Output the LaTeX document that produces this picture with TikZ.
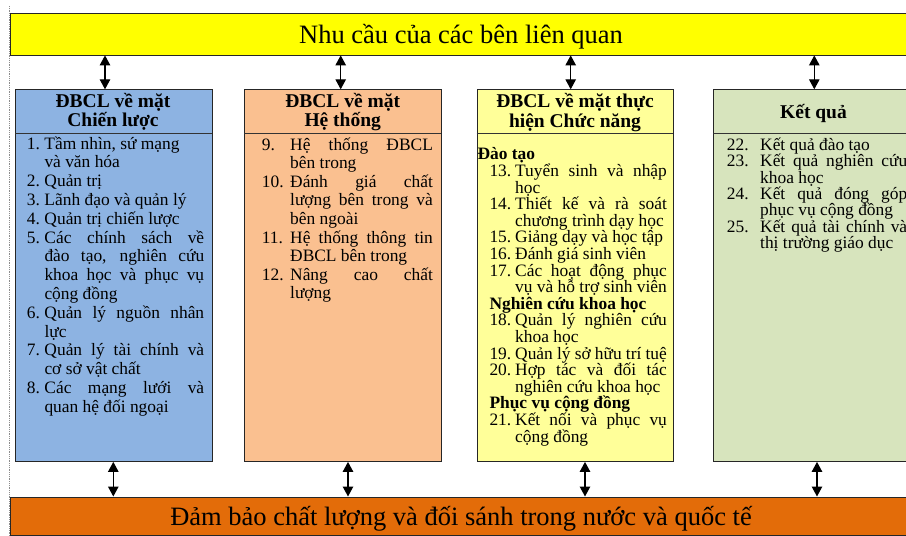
\documentclass[tikz,border=0pt]{standalone}
\usepackage{fontspec}
\setmainfont{Liberation Serif}
\usetikzlibrary{arrows.meta}
\definecolor{topyel}{HTML}{FFFF00}
\definecolor{cblue}{HTML}{8DB3E2}
\definecolor{cpeach}{HTML}{FAC090}
\definecolor{cyel}{HTML}{FFFF99}
\definecolor{cgreen}{HTML}{D7E4BD}
\definecolor{corange}{HTML}{E36C09}
\newlength\numw
\newlength\txtw
\newcommand\itJ[2]{\makebox[\numw][l]{#1}\makebox[\txtw][s]{#2}\par}
\newcommand\itR[2]{\makebox[\numw][l]{#1}#2\par}
\newcommand\coJ[1]{\hspace*{\numw}\makebox[\txtw][s]{#1}\par}
\newcommand\coR[1]{\hspace*{\numw}#1\par}
\newcommand\boxtext[5]{\begin{minipage}[t]{#4}\setlength\numw{#1}\setlength\txtw{#2}\fontsize{17.4}{#3}\selectfont\parindent=0pt\parskip=0pt\lineskiplimit=-50pt\lineskip=0pt\relax #5\end{minipage}}
\newcommand\hdr[2]{\begin{minipage}[t]{190pt}\centering\fontsize{19.5}{#1}\selectfont\bfseries #2\end{minipage}}
\tikzset{
  bar/.style={draw=black!85, line width=0.9pt, anchor=north west, inner sep=0pt},
  colbox/.style={draw=black!85, line width=0.9pt, anchor=north west, inner sep=0pt, minimum width=196.5pt, minimum height=371.7pt},
  sepline/.style={draw=black!80, line width=1.2pt},
  bartext/.style={anchor=base, inner sep=0pt, font=\fontsize{26.5}{30}\selectfont},
  txt/.style={anchor=base west, inner sep=0pt},
  htxt/.style={anchor=base, inner sep=0pt},
  dar/.style={{Triangle[width=10.5pt,length=10pt]}-{Triangle[width=10.5pt,length=10pt]}, line width=1.2pt, black}
}
\begin{document}
\begin{tikzpicture}[x=1pt,y=-1pt]
\useasboundingbox (0,0) rectangle (906,536);
\clip (0,0) rectangle (906,536);
\fill[white] (0,0) rectangle (906,536);
\draw[black!45, densely dotted, line width=0.8pt] (9,6) -- (9,536);
% top bar
\node[bar, fill=topyel, minimum width=902pt, minimum height=41.2pt] (top) at (10,13.3) {};
\node[bartext] (toptxt) at (461,43.3) {Nhu cầu của các bên liên quan};
% bottom bar
\node[bar, fill=corange, minimum width=902pt, minimum height=38.5pt] (bot) at (10,496.5) {};
\node[bartext] (bottxt) at (461,525.6) {Đảm bảo chất lượng và đối sánh trong nước và quốc tế};
% boxes
\node[colbox, fill=cblue] (b1) at (15,89.3) {};
\node[colbox, fill=cpeach] (b2) at (244.3,89.3) {};
\node[colbox, fill=cyel] (b3) at (476.7,89.3) {};
\node[colbox, fill=cgreen, minimum width=200pt] (b4) at (713.3,89.3) {};
\draw[sepline] (15,133.5) -- (211.5,133.5);
\draw[sepline] (244.3,133.5) -- (440.8,133.5);
\draw[sepline] (476.7,133.8) -- (673.2,133.8);
\draw[sepline] (713.3,133.3) -- (913.3,133.3);
% headers
\node[htxt] (h1) at (113,107.7) {\hdr{19}{ĐBCL về mặt\\Chiến lược}};
\node[htxt] (h2) at (342.7,107.7) {\hdr{19}{ĐBCL về mặt\\Hệ thống}};
\node[htxt] (h3) at (575,107.7) {\hdr{20}{ĐBCL về mặt thực\\hiện Chức năng}};
\node[htxt] (h4) at (813.5,118.3) {\hdr{19}{Kết quả}};
% contents
\node[txt] (t1) at (26.7,149) {\boxtext{17.6pt}{159.7pt}{18.8}{177.3pt}{%
\itR{1.}{Tầm nhìn, sứ mạng}
\coR{và văn hóa}
\itR{2.}{Quản trị}
\itR{3.}{Lãnh đạo và quản lý}
\itR{4.}{Quản trị chiến lược}
\itJ{5.}{Các chính sách về}
\coJ{đào tạo, nghiên cứu}
\coJ{khoa học và phục vụ}
\coR{cộng đồng}
\itJ{6.}{Quản lý nguồn nhân}
\coR{lực}
\itJ{7.}{Quản lý tài chính và}
\coR{cơ sở vật chất}
\itJ{8.}{Các mạng lưới và}
\coR{quan hệ đối ngoại}}};
\node[txt] (t2) at (261.7,150) {\boxtext{28.3pt}{142.7pt}{18.6}{171pt}{%
\itJ{9.}{Hệ thống ĐBCL}
\coR{bên trong}
\itJ{10.}{Đánh giá chất}
\coJ{lượng bên trong và}
\coR{bên ngoài}
\itJ{11.}{Hệ thống thông tin}
\coR{ĐBCL bên trong}
\itJ{12.}{Nâng cao chất}
\coR{lượng}}};
\node[txt] (t3) at (489.3,159.8) {\boxtext{25.7pt}{151.7pt}{16.6}{177.4pt}{%
\hspace*{-12pt}\textbf{Đào tạo}\par
\itJ{13.}{Tuyển sinh và nhập}
\coR{học}
\itJ{14.}{Thiết kế và rà soát}
\coR{chương trình dạy học}
\itR{15.}{Giảng dạy và học tập}
\itR{16.}{Đánh giá sinh viên}
\itJ{17.}{Các hoạt động phục}
\coR{vụ và hỗ trợ sinh viên}
\textbf{Nghiên cứu khoa học}\par
\itJ{18.}{Quản lý nghiên cứu}
\coR{khoa học}
\itR{19.}{Quản lý sở hữu trí tuệ}
\itJ{20.}{Hợp tác và đối tác}
\coR{nghiên cứu khoa học}
\textbf{Phục vụ cộng đồng}\par
\itJ{21.}{Kết nối và phục vụ}
\coR{cộng đồng}}};
\node[txt] (t4) at (726.7,150.3) {\boxtext{33.3pt}{147pt}{16.4}{180.3pt}{%
\itR{22.}{Kết quả đào tạo}
\itJ{23.}{Kết quả nghiên cứu}
\coR{khoa học}
\itJ{24.}{Kết quả đóng góp}
\coR{phục vụ cộng đồng}
\itJ{25.}{Kết quả tài chính và}
\coR{thị trường giáo dục}}};
% arrows
\coordinate (u1) at (105,0);
\coordinate (u2) at (340.7,0);
\coordinate (u3) at (570.7,0);
\coordinate (u4) at (814.3,0);
\coordinate (d1) at (113.3,0);
\coordinate (d2) at (348,0);
\coordinate (d3) at (585,0);
\coordinate (d4) at (817,0);
\draw[dar] (u1 |- top.south) -- (u1 |- b1.north);
\draw[dar] (u2 |- top.south) -- (u2 |- b2.north);
\draw[dar] (u3 |- top.south) -- (u3 |- b3.north);
\draw[dar] (u4 |- top.south) -- (u4 |- b4.north);
\draw[dar] (d1 |- b1.south) -- (d1 |- bot.north);
\draw[dar] (d2 |- b2.south) -- (d2 |- bot.north);
\draw[dar] (d3 |- b3.south) -- (d3 |- bot.north);
\draw[dar] (d4 |- b4.south) -- (d4 |- bot.north);
\end{tikzpicture}
\end{document}
